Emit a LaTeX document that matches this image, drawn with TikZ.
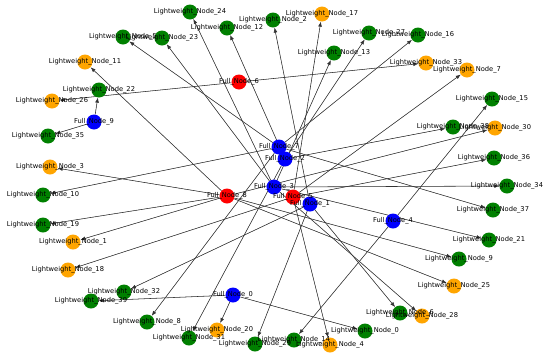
\documentclass[tikz,border=0pt]{standalone}
\usepackage{fontspec}
\setmainfont{DejaVu Sans}
\usetikzlibrary{arrows.meta}
\pgfdeclarelayer{bg}
\pgfsetlayers{bg,main}
\definecolor{ngreen}{RGB}{0,128,0}
\definecolor{norange}{RGB}{255,165,0}
\definecolor{nblue}{RGB}{0,0,255}
\definecolor{nred}{RGB}{255,0,0}
\newcommand{\lwn}[1]{Lightweight\_Node\_#1}
\newcommand{\fln}[1]{Full\_Node\_#1}
\begin{document}
\begin{tikzpicture}[x=1pt,y=-1pt,
  dot/.style={circle,minimum size=15pt,inner sep=0pt,draw=none},
  gdot/.style={dot,fill=ngreen},
  odot/.style={dot,fill=norange},
  bdot/.style={dot,fill=nblue},
  rdot/.style={dot,fill=nred},
  lbl/.style={font=\fontsize{6.7}{7}\selectfont,inner sep=0pt,text=black},
  link/.style={-{Latex[length=5pt,width=3.8pt]},line width=0.55pt,draw=black!80,fill=black!80}]
\useasboundingbox (0,0) rectangle (550,357);
% full nodes
\node[bdot] (F0) at (233,295) {};
\node[bdot] (F1) at (310,204) {};
\node[bdot] (F2) at (285,159) {};
\node[bdot] (F3) at (274,187) {};
\node[bdot] (F4) at (393,221) {};
\node[rdot] (F5) at (293,197) {};
\node[rdot] (F6) at (239,82) {};
\node[bdot] (F7) at (279,147) {};
\node[rdot] (F8) at (227,196) {};
\node[bdot] (F9) at (94,122) {};
% lightweight nodes
\node[gdot] (L0) at (365,331) {};
\node[odot] (L1) at (73,242) {};
\node[gdot] (L2) at (273,20) {};
\node[odot] (L3) at (50,167) {};
\node[odot] (L4) at (330,345) {};
\node[gdot] (L5) at (123,37) {};
\node[gdot] (L6) at (400,313) {};
\node[odot] (L7) at (467,70) {};
\node[gdot] (L8) at (147,322) {};
\node[gdot] (L9) at (459,259) {};
\node[gdot] (L10) at (43,195) {};
\node[odot] (L11) at (85,62) {};
\node[gdot] (L12) at (227,28) {};
\node[gdot] (L13) at (334,53) {};
\node[gdot] (L14) at (294,340) {};
\node[gdot] (L15) at (492,99) {};
\node[gdot] (L16) at (418,35) {};
\node[odot] (L17) at (322,14) {};
\node[odot] (L18) at (68,270) {};
\node[gdot] (L19) at (43,225) {};
\node[odot] (L20) at (217,330) {};
\node[gdot] (L21) at (489,240) {};
\node[gdot] (L22) at (99,90) {};
\node[gdot] (L23) at (162,38) {};
\node[gdot] (L24) at (190,12) {};
\node[odot] (L25) at (454,286) {};
\node[odot] (L26) at (52,101) {};
\node[gdot] (L27) at (369,33) {};
\node[odot] (L28) at (422,316) {};
\node[gdot] (L29) at (255,344) {};
\node[odot] (L30) at (495,128) {};
\node[gdot] (L31) at (189,338) {};
\node[gdot] (L32) at (124,292) {};
\node[odot] (L33) at (426,63) {};
\node[gdot] (L34) at (507,186) {};
\node[gdot] (L35) at (48,136) {};
\node[gdot] (L36) at (494,158) {};
\node[gdot] (L37) at (493,210) {};
\node[gdot] (L38) at (453,127) {};
\node[gdot] (L39) at (91,301) {};
% edges
\begin{pgfonlayer}{bg}
\fill[white] (0,0) rectangle (550,357);
\foreach \t in {L0,L20,L39} \draw[link] (F0) -- (\t);
\foreach \t in {L2,L6,L29,L32} \draw[link] (F1) -- (\t);
\foreach \t in {L12,L27,L31,L38} \draw[link] (F2) -- (\t);
\foreach \t in {L13,L21,L23,L24,L28,L34} \draw[link] (F3) -- (\t);
\foreach \t in {L14,L15} \draw[link] (F4) -- (\t);
\foreach \t in {L4,L7,L17,L18,L36} \draw[link] (F5) -- (\t);
\foreach \t in {L26,L33} \draw[link] (F6) -- (\t);
\foreach \t in {L5,L8,L10,L16,L37} \draw[link] (F7) -- (\t);
\foreach \t in {L1,L3,L9,L11,L19,L25,L30} \draw[link] (F8) -- (\t);
\foreach \t in {L22,L35} \draw[link] (F9) -- (\t);
\end{pgfonlayer}
% labels
\foreach \n in {0,...,9} \node[lbl] at (F\n) {\fln{\n}};
\foreach \n in {0,...,39} \node[lbl] at (L\n) {\lwn{\n}};
\end{tikzpicture}
\end{document}
